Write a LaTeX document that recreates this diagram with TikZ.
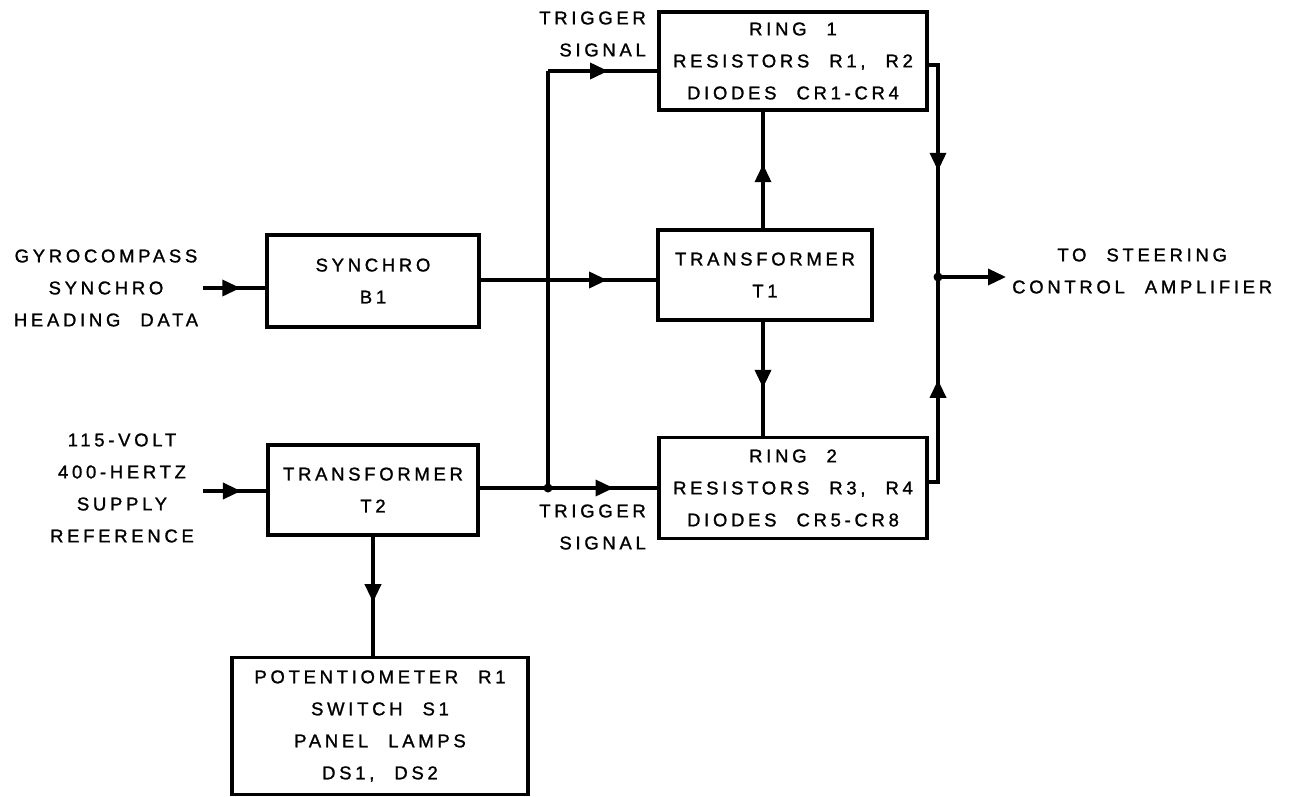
\documentclass[tikz,border=0pt]{standalone}
\usepackage{fontspec}
\setmainfont{Liberation Sans}[LetterSpace=20,FakeBold=1.2]
\usetikzlibrary{arrows.meta,decorations.markings}
\newcommand\stencil{\fontsize{18.5}{32}\selectfont\spaceskip=20pt\relax}
\tikzset{
  blockbox/.style={draw, line width=3.5pt, inner sep=0pt, align=center, font=\stencil},
  lbl/.style={inner sep=0pt, align=center, font=\stencil},
  wire/.style={line width=3.5pt},
  midarr/.style={wire, postaction={decorate},
    decoration={markings, mark=at position #1 with {\arrow{Triangle[length=18pt,width=16pt]}}}},
  endarr/.style={wire, -{Triangle[length=18pt,width=16pt]}},
  tapdot/.style={circle, fill, inner sep=0pt, minimum size=9pt}}
\begin{document}
\begin{tikzpicture}[x=1pt,y=-1pt]
        \useasboundingbox (0,0) rectangle (1292,796);
        \node[blockbox, minimum width=212pt, minimum height=92pt] (synchro) at (373,281) {SYNCHRO\\B1};
        \node[blockbox, minimum width=210pt, minimum height=90pt] (t2) at (373,490) {TRANSFORMER\\T2};
        \node[blockbox, minimum width=214pt, minimum height=90pt] (t1) at (765,275) {TRANSFORMER\\T1};
        \node[blockbox, minimum width=268pt, minimum height=98pt] (ring1) at (793,61)
          {RING 1\\RESISTORS R1, R2\\DIODES CR1-CR4};
        \node[blockbox, minimum width=268pt, minimum height=101pt] (ring2) at (793,488)
          {RING 2\\RESISTORS R3, R4\\DIODES CR5-CR8};
        \node[blockbox, minimum width=296pt, minimum height=137pt] (pot) at (380,726)
          {POTENTIOMETER R1\\SWITCH S1\\PANEL LAMPS\\DS1, DS2};
        % inputs and outputs
        \node[lbl] (gyro) at (106,288) {GYROCOMPASS\\SYNCHRO\\HEADING DATA};
        \node[lbl] (supply) at (122,488) {115-VOLT\\400-HERTZ\\SUPPLY\\REFERENCE};
        \node[lbl, anchor=east, align=right] (trig1) at (646,34) {TRIGGER\\SIGNAL};
        \node[lbl, anchor=east, align=right] (trig2) at (646,527) {TRIGGER\\SIGNAL};
        \node[lbl, anchor=west] (steer) at (1012,271) {TO STEERING\\CONTROL AMPLIFIER};
        \coordinate (gyroin) at (203,288);
        \coordinate (supplyin) at (203,491);
        \coordinate (tap) at (548,488);
        \coordinate (trigtop) at (548,71);
        \coordinate (outbus) at (938,277);
        \coordinate (steerout) at (1006,277);
        \draw[midarr=0.6] (gyroin) -- (gyroin -| synchro.west);
        \draw[midarr=0.6] (supplyin) -- (supplyin -| t2.west);
        \draw[midarr=0.72] (synchro.east |- 0,280) -- (t1.west |- 0,280);
        \draw[wire] (t2.east |- tap) -- (tap) -- (trigtop);
        \draw[midarr=0.6] (tap) -- (tap -| ring2.west);
        \draw[midarr=0.55] (trigtop) -- (trigtop -| ring1.west);
        \draw[midarr=0.55] (t1.north -| 763,0) -- (ring1.south -| 763,0);
        \draw[midarr=0.58] (t1.south -| 763,0) -- (ring2.north -| 763,0);
        \draw[midarr=0.55] (t2.south) -- (t2.south |- pot.north);
        % ring outputs join on the bus
        \draw[midarr=0.52] (ring1.east |- 0,65) -| (outbus);
        \draw[midarr=0.52] (ring2.east |- 0,482) -| (outbus);
        \draw[endarr] (outbus) -- (steerout);
        \node[tapdot] at (tap) {};
        \node[tapdot] at (outbus) {};
      \end{tikzpicture}
\end{document}
